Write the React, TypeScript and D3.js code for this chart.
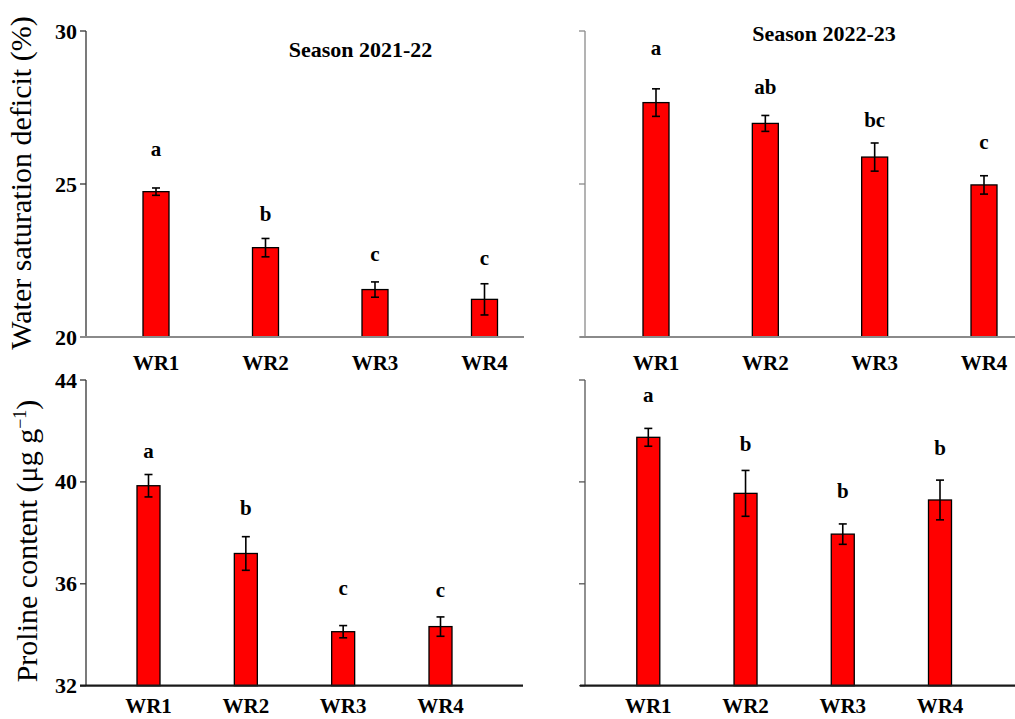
import React from "react";
import * as d3 from "d3";

const categories = ["WR1", "WR2", "WR3", "WR4"];

// Water saturation deficit (%)
const wsd2122 = [24.75, 22.92, 21.55, 21.23];
const wsd2122Err = [0.12, 0.3, 0.25, 0.51];
const wsd2122Letters = ["a", "b", "c", "c"];
const wsd2122LetterAt = [26.14, 24.02, 22.71, 22.58];

const wsd2223 = [27.66, 26.98, 25.88, 24.97];
const wsd2223Err = [0.45, 0.26, 0.46, 0.3];
const wsd2223Letters = ["a", "ab", "bc", "c"];
const wsd2223LetterAt = [29.45, 28.18, 27.09, 26.38];

// Proline content (µg g-1)
const pro2122 = [39.85, 37.19, 34.12, 34.32];
const pro2122Err = [0.44, 0.66, 0.24, 0.38];
const pro2122Letters = ["a", "b", "c", "c"];
const pro2122LetterAt = [41.2, 38.99, 35.83, 35.76];

const pro2223 = [41.75, 39.55, 37.95, 39.29];
const pro2223Err = [0.35, 0.9, 0.4, 0.78];
const pro2223Letters = ["a", "b", "b", "b"];
const pro2223LetterAt = [43.43, 41.47, 39.63, 41.34];

const wsdTicks = [20, 25, 30];
const proTicks = [32, 36, 40, 44];

const FONT = "'Liberation Serif', 'Times New Roman', serif";

type PanelProps = {
  values: number[];
  errs: number[];
  letters: string[];
  letterAt: number[];
  domain: [number, number];
  yRange: [number, number];
  xRange: [number, number];
  axisX0: number;
  axisX1: number;
  yAxisX: number;
  ticks: number[];
  showTickLabels: boolean;
  barW: number;
  axisColor: string;
  yAxisColor: string;
  xLabelY: number;
  title?: string;
  titlePos?: [number, number];
};

function Panel(p: PanelProps) {
  const y = d3.scaleLinear().domain(p.domain).range(p.yRange);
  const x = d3.scalePoint<string>().domain(categories).range(p.xRange);
  const base = y(p.domain[0]);
  return (
    <g>
      {categories.map((c, i) => {
        const cx = x(c)!;
        const top = y(p.values[i]);
        return (
          <rect
            key={"b" + c}
            x={cx - p.barW / 2}
            y={top}
            width={p.barW}
            height={base - top}
            fill="#ff0000"
            stroke="#000"
            strokeWidth={1.3}
          />
        );
      })}
      {categories.map((c, i) => {
        const cx = x(c)!;
        const y1 = y(p.values[i] + p.errs[i]);
        const y2 = y(p.values[i] - p.errs[i]);
        return (
          <g key={"e" + c} stroke="#000" strokeWidth={1.6}>
            <line x1={cx} x2={cx} y1={y1} y2={y2} />
            <line x1={cx - 4} x2={cx + 4} y1={y1} y2={y1} />
            <line x1={cx - 4} x2={cx + 4} y1={y2} y2={y2} />
          </g>
        );
      })}
      {categories.map((c, i) => (
        <text
          key={"l" + c}
          x={x(c)!}
          y={y(p.letterAt[i])}
          textAnchor="middle"
          dominantBaseline="central"
          fontFamily={FONT}
          fontWeight="bold"
          fontSize={21}
          fill="#000"
        >
          {p.letters[i]}
        </text>
      ))}
      <line x1={p.yAxisX} x2={p.yAxisX} y1={y(p.domain[1])} y2={base} stroke={p.yAxisColor} strokeWidth={1.3} />
      {p.ticks.map((t) => (
        <g key={"t" + t}>
          <line x1={p.yAxisX - 6} x2={p.yAxisX} y1={y(t)} y2={y(t)} stroke={p.yAxisColor} strokeWidth={1.3} />
          {p.showTickLabels && (
            <text
              x={p.yAxisX - 9}
              y={y(t)}
              textAnchor="end"
              dominantBaseline="central"
              fontFamily={FONT}
              fontWeight="bold"
              fontSize={22}
              fill="#000"
            >
              {t}
            </text>
          )}
        </g>
      ))}
      <line x1={p.axisX0} x2={p.axisX1} y1={base} y2={base} stroke={p.axisColor} strokeWidth={2.2} />
      {categories.map((c) => (
        <text
          key={"x" + c}
          x={x(c)!}
          y={p.xLabelY}
          textAnchor="middle"
          dominantBaseline="central"
          fontFamily={FONT}
          fontWeight="bold"
          fontSize={21}
          fill="#000"
        >
          {c}
        </text>
      ))}
      {p.title && p.titlePos && (
        <text
          x={p.titlePos[0]}
          y={p.titlePos[1]}
          textAnchor="middle"
          dominantBaseline="central"
          fontFamily={FONT}
          fontWeight="bold"
          fontSize={22}
          fill="#000"
        >
          {p.title}
        </text>
      )}
    </g>
  );
}

export default function App() {
  return (
    <svg
      width={1015}
      height={719}
      style={{ position: "absolute", left: 0, top: 0, background: "#fff" }}
    >
      <rect x={0} y={0} width={1015} height={719} fill="#fff" />
      <Panel
        values={wsd2122}
        errs={wsd2122Err}
        letters={wsd2122Letters}
        letterAt={wsd2122LetterAt}
        domain={[20, 30]}
        yRange={[337, 31]}
        xRange={[156, 484.5]}
        axisX0={80}
        axisX1={524}
        yAxisX={86}
        ticks={wsdTicks}
        showTickLabels={true}
        barW={26}
        axisColor="#8a8a8a"
        yAxisColor="#333"
        xLabelY={363}
        title="Season 2021-22"
        titlePos={[360.5, 49]}
      />
      <Panel
        values={wsd2223}
        errs={wsd2223Err}
        letters={wsd2223Letters}
        letterAt={wsd2223LetterAt}
        domain={[20, 30]}
        yRange={[337, 31]}
        xRange={[656, 984]}
        axisX0={580}
        axisX1={1015}
        yAxisX={585}
        ticks={wsdTicks}
        showTickLabels={false}
        barW={26}
        axisColor="#8a8a8a"
        yAxisColor="#8a8a8a"
        xLabelY={363}
        title="Season 2022-23"
        titlePos={[824, 33]}
      />
      <Panel
        values={pro2122}
        errs={pro2122Err}
        letters={pro2122Letters}
        letterAt={pro2122LetterAt}
        domain={[32, 44]}
        yRange={[685.7, 380]}
        xRange={[148.5, 440.5]}
        axisX0={80}
        axisX1={523}
        yAxisX={86}
        ticks={proTicks}
        showTickLabels={true}
        barW={23}
        axisColor="#1a1a1a"
        yAxisColor="#333"
        xLabelY={706}
      />
      <Panel
        values={pro2223}
        errs={pro2223Err}
        letters={pro2223Letters}
        letterAt={pro2223LetterAt}
        domain={[32, 44]}
        yRange={[685.7, 380]}
        xRange={[648.3, 940]}
        axisX0={580}
        axisX1={1015}
        yAxisX={585}
        ticks={proTicks}
        showTickLabels={false}
        barW={23}
        axisColor="#1a1a1a"
        yAxisColor="#555"
        xLabelY={706}
      />
      <text
        transform="translate(31,183) rotate(-90)"
        textAnchor="middle"
        fontFamily={FONT}
        fontSize={30}
        fill="#000"
      >
        Water saturation deficit (%)
      </text>
      <text
        transform="translate(37,541) rotate(-90)"
        textAnchor="middle"
        fontFamily={FONT}
        fontSize={30}
        fill="#000"
      >
        Proline content (μg g
        <tspan dy={-11} fontSize={18}>−1</tspan>
        <tspan dy={11}>)</tspan>
      </text>
    </svg>
  );
}
